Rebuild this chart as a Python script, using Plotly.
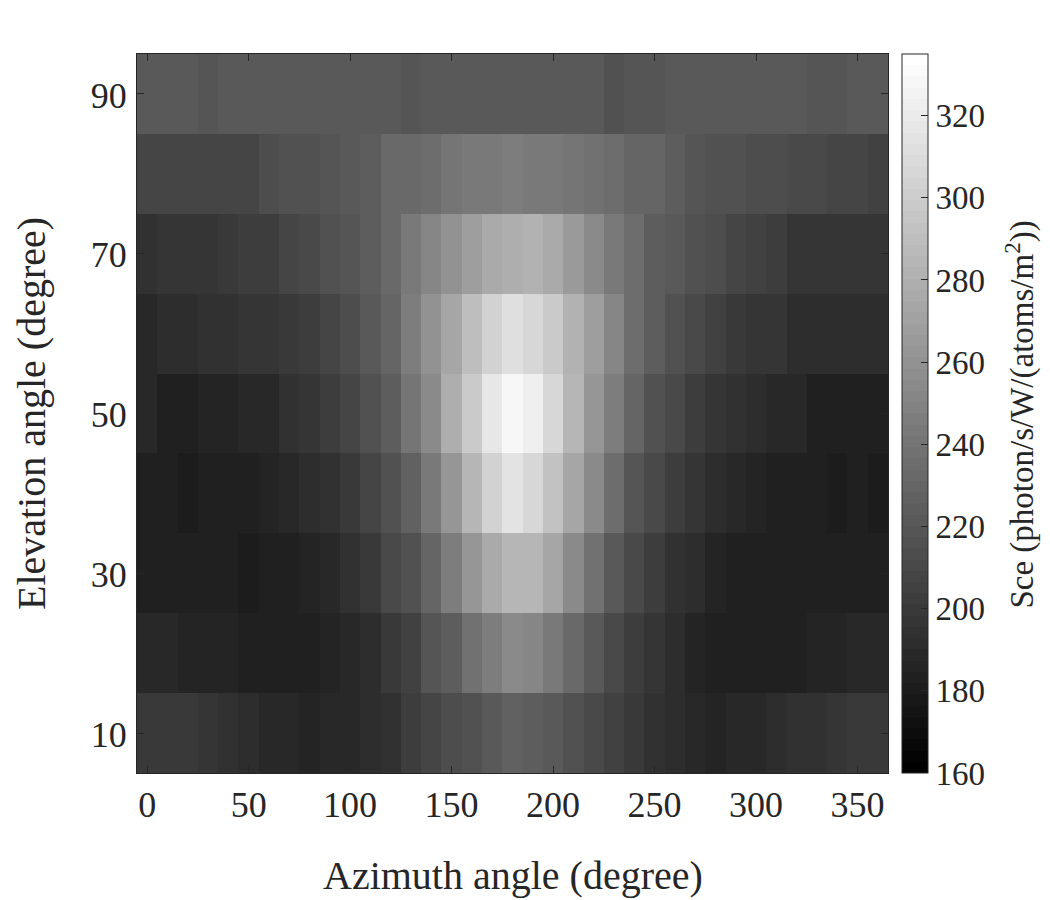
import plotly.graph_objects as go

azimuth = list(range(0, 361, 10))
elevation = [10, 20, 30, 40, 50, 60, 70, 80, 90]

sce_10 = [198.5,198.5,198.5,195.8,193.1,190.4,187.7,187.7,185,187.7,187.7,190.4,193.1,201.2,206.6,212,217.4,222.8,228.2,225.5,222.8,217.4,209.3,203.9,198.5,193.1,190.4,187.7,185,187.7,187.7,190.4,193.1,193.1,195.8,198.5,198.5]
sce_20 = [187.7,187.7,185,185,185,182.3,182.3,182.3,182.3,185,187.7,190.4,198.5,203.9,220.1,225.5,239,247.1,255.2,252.5,244.4,233.6,222.8,209.3,201.2,195.8,190.4,185,182.3,182.3,182.3,182.3,182.3,185,185,187.7,187.7]
sce_30 = [182.3,182.3,182.3,182.3,182.3,179.6,182.3,182.3,185,187.7,193.1,198.5,209.3,217.4,230.9,247.1,263.3,276.8,284.9,284.9,274.1,255.2,239,222.8,209.3,201.2,193.1,190.4,185,182.3,182.3,182.3,182.3,182.3,182.3,182.3,182.3]
sce_40 = [182.3,182.3,179.6,182.3,182.3,182.3,185,187.7,190.4,193.1,198.5,206.6,217.4,228.2,244.4,263.3,284.9,303.8,314.6,306.5,293,274.1,255.2,236.3,220.1,209.3,201.2,195.8,190.4,187.7,185,182.3,182.3,182.3,179.6,182.3,179.6]
sce_50 = [187.7,182.3,182.3,185,185,187.7,187.7,193.1,195.8,201.2,206.6,214.7,225.5,241.7,255.2,279.5,298.4,317.3,328.1,322.7,306.5,284.9,263.3,247.1,230.9,217.4,209.3,201.2,195.8,193.1,190.4,187.7,187.7,182.3,182.3,182.3,182.3]
sce_60 = [187.7,190.4,190.4,193.1,193.1,195.8,195.8,198.5,201.2,206.6,212,222.8,230.9,247.1,260.6,274.1,290.3,303.8,311.9,306.5,298.4,282.2,268.7,252.5,236.3,225.5,214.7,209.3,203.9,198.5,195.8,195.8,190.4,190.4,190.4,190.4,190.4]
sce_70 = [193.1,195.8,195.8,195.8,198.5,201.2,201.2,206.6,209.3,214.7,220.1,225.5,233.6,244.4,252.5,260.6,268.7,276.8,279.5,282.2,276.8,266,255.2,244.4,236.3,225.5,222.8,214.7,212,206.6,203.9,201.2,195.8,195.8,195.8,195.8,195.8]
sce_80 = [206.6,206.6,206.6,206.6,206.6,206.6,212,214.7,217.4,220.1,222.8,225.5,233.6,233.6,236.3,241.7,244.4,244.4,247.1,244.4,244.4,241.7,239,236.3,230.9,230.9,225.5,220.1,217.4,214.7,212,212,209.3,209.3,206.6,206.6,203.9]
sce_90 = [222.8,222.8,222.8,220.1,222.8,222.8,222.8,222.8,222.8,222.8,222.8,222.8,222.8,220.1,222.8,222.8,222.8,222.8,222.8,222.8,222.8,222.8,222.8,217.4,220.1,220.1,222.8,222.8,222.8,222.8,222.8,222.8,222.8,220.1,220.1,222.8,222.8]

x_ticks = [0, 50, 100, 150, 200, 250, 300, 350]
y_ticks = [10, 30, 50, 70, 90]
cbar_ticks = [160, 180, 200, 220, 240, 260, 280, 300, 320]

z_rows = [sce_10, sce_20, sce_30, sce_40, sce_50, sce_60, sce_70, sce_80, sce_90]

n_levels = 64
gray_scale = []
for k in range(n_levels):
    g = round(k * 255 / (n_levels - 1))
    c = f"rgb({g},{g},{g})"
    gray_scale.append([k / n_levels, c])
    gray_scale.append([(k + 1) / n_levels, c])

FONT = "Liberation Serif"
INK = "#262626"

fig = go.Figure(
    go.Heatmap(
        x=azimuth,
        y=elevation,
        z=z_rows,
        zmin=160,
        zmax=335,
        colorscale=gray_scale,
        colorbar=dict(
            x=1.0186,
            xanchor="left",
            xref="paper",
            y=0,
            yanchor="bottom",
            len=1,
            lenmode="fraction",
            thickness=26,
            thicknessmode="pixels",
            xpad=0,
            ypad=0,
            outlinecolor=INK,
            outlinewidth=1,
            tickvals=cbar_ticks,
            tickprefix="\u200a\u200a",
            ticks="inside",
            ticklen=7,
            tickwidth=1,
            tickcolor=INK,
            tickfont=dict(family=FONT, size=33, color=INK),
        ),
    )
)

fig.update_layout(
    width=1034,
    height=890,
    margin=dict(l=129, r=154, t=46, b=125, autoexpand=False),
    paper_bgcolor="white",
    plot_bgcolor="white",
    font=dict(family=FONT, color=INK),
    xaxis=dict(
        range=[-5, 365],
        tickvals=x_ticks,
        ticks="inside",
        ticklen=7,
        tickwidth=1,
        tickcolor=INK,
        showline=True,
        linecolor=INK,
        linewidth=1,
        mirror="allticks",
        showgrid=False,
        zeroline=False,
        automargin=False,
        tickfont=dict(family=FONT, size=36, color=INK),
        ticklabelstandoff=0,
    ),
    yaxis=dict(
        range=[5, 95],
        tickvals=y_ticks,
        ticks="inside",
        ticklen=7,
        tickwidth=1,
        tickcolor=INK,
        showline=True,
        linecolor=INK,
        linewidth=1,
        mirror="allticks",
        showgrid=False,
        zeroline=False,
        automargin=False,
        tickfont=dict(family=FONT, size=36, color=INK),
        ticklabelstandoff=2,
        ticklabelshift=1,
        title=dict(text="Elevation angle (degree)", font=dict(family=FONT, size=40, color=INK), standoff=32),
    ),
    annotations=[
        dict(
            text="Azimuth angle (degree)",
            xref="paper",
            yref="paper",
            x=0.5007,
            y=-0.1419,
            xanchor="center",
            yanchor="middle",
            showarrow=False,
            font=dict(family=FONT, size=40, color=INK),
        ),
        dict(
            text="Sce (photon/s/W/(atoms/m<sup>2</sup>))",
            xref="paper",
            yref="paper",
            x=1.1758,
            y=0.4986,
            xanchor="center",
            yanchor="middle",
            textangle=-90,
            showarrow=False,
            font=dict(family=FONT, size=33, color=INK),
        ),
    ],
)

fig.write_html("out.html")
